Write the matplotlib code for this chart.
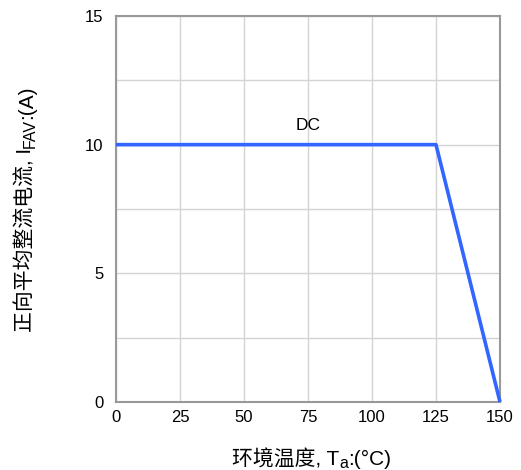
import matplotlib
matplotlib.use('Agg')
import matplotlib.pyplot as plt
import numpy as np

plt.rcParams['font.family'] = ['Liberation Sans', 'Noto Sans CJK SC', 'DejaVu Sans']

# derating curve
temp = [0, 125, 150]
current = [10, 10, 0]
xticks = [0, 25, 50, 75, 100, 125, 150]
yticks = [0, 5, 10, 15]
yminor = [2.5, 7.5, 12.5]

fig = plt.figure(figsize=(5.21, 4.70), dpi=100)
ax = fig.add_axes([0.2226, 0.1447, 0.7371, 0.8213])

ax.plot(temp, current, color='#3366ff', lw=2.6, solid_capstyle='butt', zorder=3, clip_on=False)
ax.text(75, 10.45, 'DC', ha='center', va='bottom', fontsize=12.5)

ax.set_xlim(0, 150)
ax.set_ylim(0, 15)
ax.set_xticks(xticks)
ax.set_yticks(yticks)
ax.set_yticks(yminor, minor=True)
ax.grid(True, which='both', color='#d4d4d4', lw=1.0)
ax.tick_params(which='both', length=0, labelsize=12)
ax.tick_params(axis='x', pad=6)
ax.tick_params(axis='y', pad=9)
for s in ax.spines.values():
    s.set_color('#999999')
    s.set_linewidth(1.5)


def chain_label(parts, cx, cy, rot):
    # parts: (text, size, baseline shift in px); laid out along the text direction
    texts = [fig.text(0, 0, t, fontsize=fs, ha='left', va='baseline',
                      rotation=rot, rotation_mode='anchor', transform=None)
             for t, fs, dy in parts]
    fig.canvas.draw()
    r = fig.canvas.get_renderer()
    lens = []
    for t in texts:
        bb = t.get_window_extent(r)
        lens.append(bb.width if rot == 0 else bb.height)
    pos = -sum(lens) / 2.0
    for t, (s, fs, dy), L in zip(texts, parts, lens):
        if rot == 0:
            t.set_position((cx + pos, cy + dy))
        else:
            t.set_position((cx - dy, cy + pos))
        pos += L


chain_label([('环境温度, T', 15, 0), ('a', 11.5, -3), (':(°C)', 15, 0)], 312, 470 - 465, 0)
chain_label([('正向平均整流电流, I', 15, 0), ('FAV', 11.5, -3), (':(A)', 15, 0)], 32, 470 - 209, 90)

fig.savefig('out.png', dpi=100)
